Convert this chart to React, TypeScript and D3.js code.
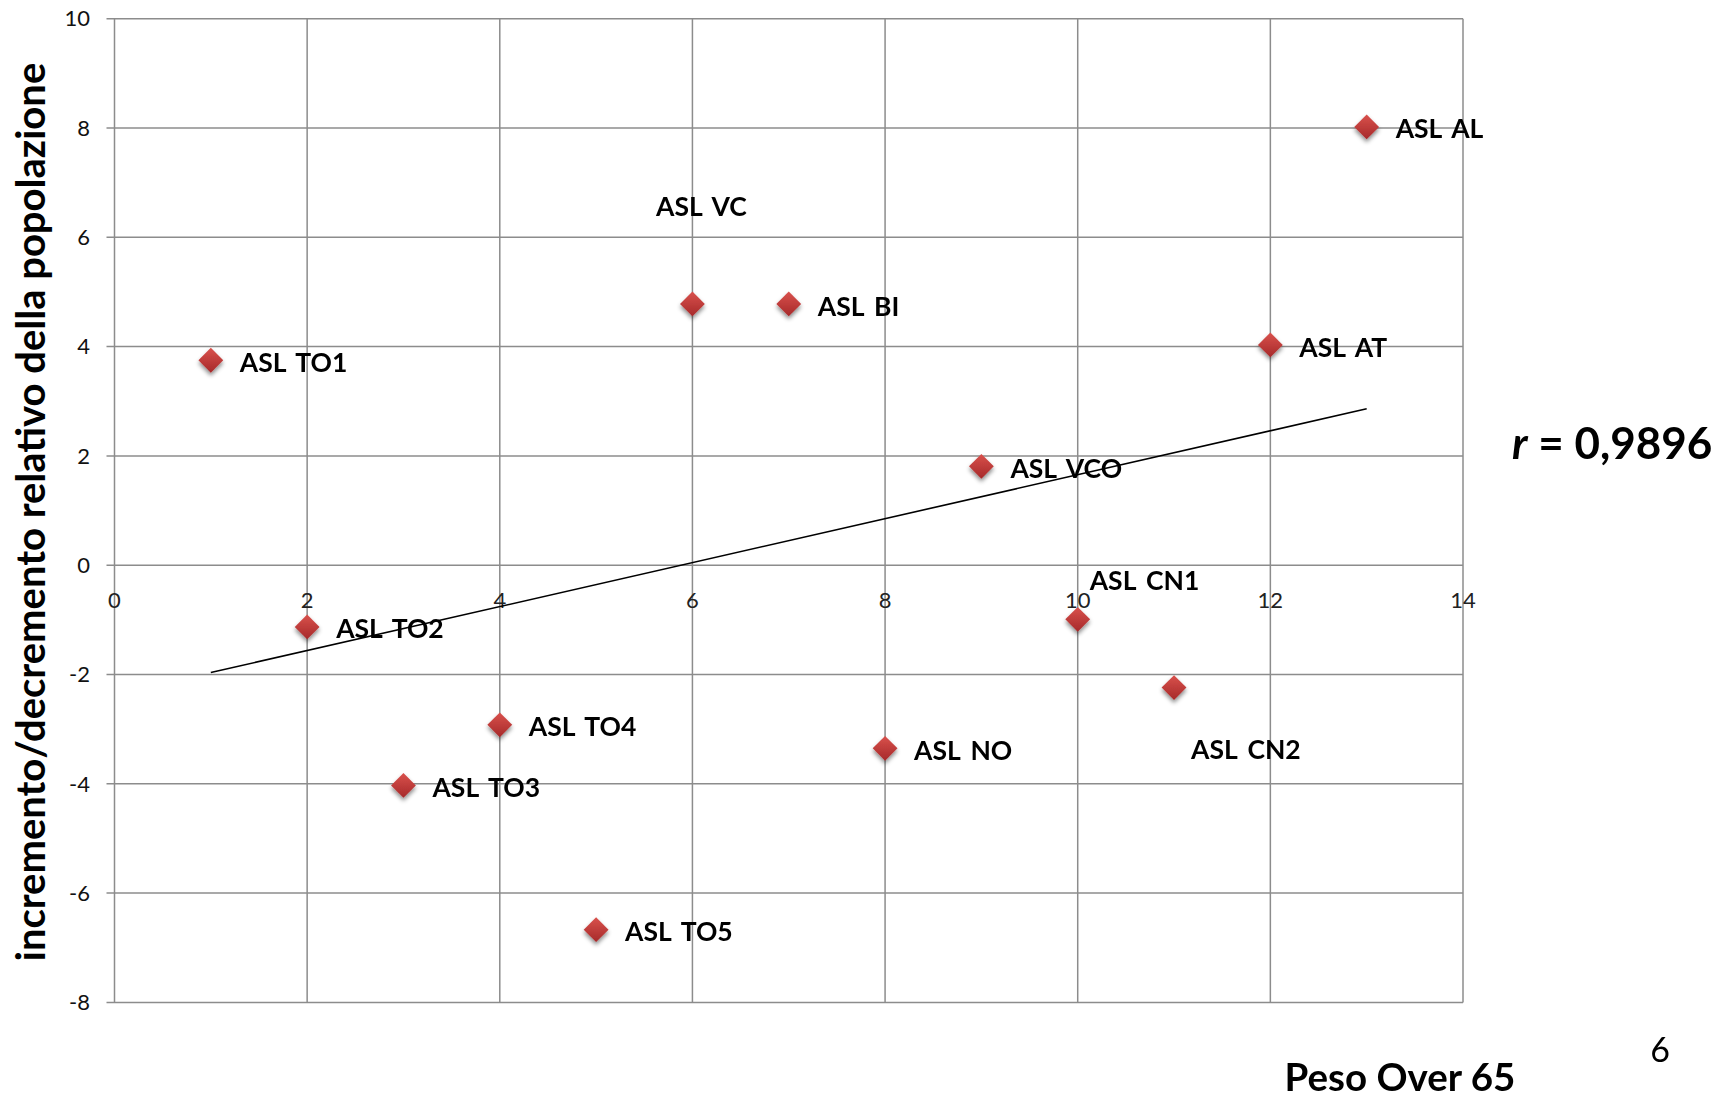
import React from "react";
import * as d3 from "d3";

// Peso Over 65 (x) vs incremento/decremento relativo della popolazione (y), per ASL
const aslNames = [
  "ASL TO1", "ASL TO2", "ASL TO3", "ASL TO4", "ASL TO5", "ASL VC", "ASL BI",
  "ASL NO", "ASL VCO", "ASL CN1", "ASL CN2", "ASL AT", "ASL AL",
];
const pesoOver65 = [1, 2, 3, 4, 5, 6, 7, 8, 9, 10, 11, 12, 13];
const incremento = [3.75, -1.13, -4.03, -2.92, -6.67, 4.78, 4.78, -3.35, 1.81, -0.99, -2.24, 4.03, 8.02];

const xTicks = [0, 2, 4, 6, 8, 10, 12, 14];
const yTicks = [-8, -6, -4, -2, 0, 2, 4, 6, 8, 10];

const correlationText = "0,9896";
const slideNumber = "6";

// label placement relative to its marker (pixels)
const defaultLabelOffset = { dx: 29, dy: 2, anchor: "start" };
const labelOffsets: Record<string, { dx: number; dy: number; anchor: string }> = {
  "ASL VC": { dx: 9, dy: -98, anchor: "middle" },
  "ASL CN1": { dx: 12, dy: -39, anchor: "start" },
  "ASL CN2": { dx: 17, dy: 62, anchor: "start" },
};

const W = 1727;
const H = 1096;

export default function App() {
  const x = d3.scaleLinear().domain([0, 14]).range([114.5, 1463]);
  const y = d3.scaleLinear().domain([-8, 10]).range([1002.4, 18.7]);

  // least-squares trend line over the plotted points
  const mx = d3.mean(pesoOver65)!;
  const my = d3.mean(incremento)!;
  const sxy = d3.sum(pesoOver65, (v, i) => (v - mx) * (incremento[i] - my));
  const sxx = d3.sum(pesoOver65, (v) => (v - mx) * (v - mx));
  const slope = sxy / sxx;
  const intercept = my - slope * mx;
  const [xMin, xMax] = d3.extent(pesoOver65) as [number, number];
  const trend = d3
    .line<number>()
    .x((v) => x(v))
    .y((v) => y(intercept + slope * v))([xMin, xMax]);

  const diamond = d3.symbol().type(d3.symbolDiamond2).size(2 * 14 * 14)();

  const grid = "#8c8c8c";
  const font = "Lato, 'Open Sans', sans-serif";

  return (
    <svg
      width={W}
      height={H}
      style={{ position: "absolute", left: 0, top: 0, background: "#fff" }}
      fontFamily={font}
    >
      <defs>
        <linearGradient id="markerFill" x1="0" y1="0" x2="0" y2="1">
          <stop offset="0%" stopColor="#d9514c" />
          <stop offset="100%" stopColor="#a6292a" />
        </linearGradient>
        <filter id="markerShadow" x="-50%" y="-50%" width="200%" height="220%">
          <feDropShadow dx="0" dy="3" stdDeviation="2" floodColor="#000" floodOpacity="0.45" />
        </filter>
      </defs>

      {/* grid */}
      <g stroke={grid} strokeWidth={1.5}>
        {yTicks.map((t) => (
          <line key={"h" + t} x1={x(0) - 8} x2={x(14)} y1={y(t)} y2={y(t)} />
        ))}
        {xTicks.map((t) => (
          <line key={"v" + t} x1={x(t)} x2={x(t)} y1={y(10)} y2={y(-8)} />
        ))}
      </g>

      {/* y tick labels */}
      <g fontSize={22} fill="#111" textAnchor="end">
        {yTicks.map((t) => (
          <text key={"yl" + t} x={90} y={y(t)} dy="0.35em">
            {t}
          </text>
        ))}
      </g>

      {/* x tick labels sit under the zero line */}
      <g fontSize={22} fill="#222" textAnchor="middle">
        {xTicks.map((t) => (
          <text key={"xl" + t} x={x(t)} y={y(0) + 43} dy="0">
            {t}
          </text>
        ))}
      </g>

      {/* trend line */}
      <path d={trend ?? ""} fill="none" stroke="#000" strokeWidth={1.6} />

      {/* markers */}
      <g filter="url(#markerShadow)">
        {pesoOver65.map((v, i) => (
          <path
            key={"m" + i}
            d={diamond ?? ""}
            transform={`translate(${x(v)},${y(incremento[i])})`}
            fill="url(#markerFill)"
          />
        ))}
      </g>

      {/* point labels */}
      <g fontSize={26.5} fontWeight={700} fill="#000" wordSpacing={4}>
        {aslNames.map((name, i) => {
          const o = labelOffsets[name] ?? defaultLabelOffset;
          return (
            <text
              key={"t" + i}
              x={x(pesoOver65[i]) + o.dx}
              y={y(incremento[i]) + o.dy}
              dy="0.36em"
              textAnchor={o.anchor}
            >
              {name}
            </text>
          );
        })}
      </g>

      {/* axis titles */}
      <text
        transform={`translate(31,512) rotate(-90)`}
        textAnchor="middle"
        dy="0.36em"
        fontSize={40}
        fontWeight={700}
        fill="#000"
      >
        incremento/decremento relativo della popolazione
      </text>
      <text x={1400} y={1091} textAnchor="middle" fontSize={38.5} fontWeight={700} fill="#000">
        Peso Over 65
      </text>

      {/* correlation coefficient */}
      <text x={1512} y={443} dy="0.36em" fontSize={44} fontWeight={700} fill="#000">
        <tspan fontStyle="italic">r</tspan>
        {" = " + correlationText}
      </text>

      {/* slide number */}
      <text x={1660} y={1050} dy="0.36em" textAnchor="middle" fontSize={34} fill="#000">
        {slideNumber}
      </text>
    </svg>
  );
}
